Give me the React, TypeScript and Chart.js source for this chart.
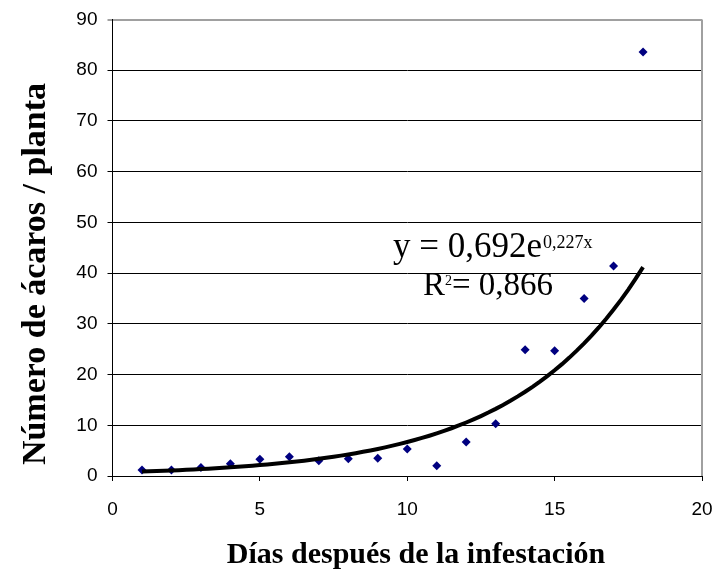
import React, { useEffect, useRef } from "react";
import { Chart, registerables } from "chart.js";

Chart.register(...registerables);

const days = [1, 2, 3, 4, 5, 6, 7, 8, 9, 10, 11, 12, 13, 14, 15, 16, 17, 18];
const mites = [1.2, 1.2, 1.7, 2.4, 3.3, 3.8, 3.0, 3.4, 3.5, 5.3, 2.0, 6.7, 10.3, 24.9, 24.7, 35.0, 41.4, 83.6];
const xTicks = [0, 5, 10, 15, 20];
const yTicks = [0, 10, 20, 30, 40, 50, 60, 70, 80, 90];
const trendA = 0.692;
const trendB = 0.227;
const eqLine1 = "y = 0,692e";
const eqExp = "0,227x";
const eqLine2a = "R";
const eqLine2sup = "2";
const eqLine2b = "= 0,866";
const xTitle = "Días después de la infestación";
const yTitle = "Número de ácaros / planta";

export default function App() {
  const ref = useRef<HTMLCanvasElement | null>(null);
  useEffect(() => {
    document.body.style.margin = "0";
    const canvas = ref.current!;
    const trendPts: { x: number; y: number }[] = [];
    for (let i = 0; i <= 68; i++) {
      const x = days[0] + (i * (days[days.length - 1] - days[0])) / 68;
      trendPts.push({ x, y: trendA * Math.exp(trendB * x) });
    }
    const textPlugin = {
      id: "texts",
      afterDraw(chart: any) {
        const ctx = chart.ctx;
        const area = chart.chartArea;
        ctx.save();
        ctx.strokeStyle = "#a0a0a0";
        ctx.lineWidth = 2;
        ctx.beginPath();
        ctx.moveTo(area.right, area.top);
        ctx.lineTo(area.right, area.bottom);
        ctx.stroke();
        ctx.fillStyle = "#000";
        ctx.save();
        ctx.translate(36, 274);
        ctx.rotate(-Math.PI / 2);
        ctx.font = "bold 34px 'Liberation Serif'";
        ctx.textAlign = "center";
        ctx.textBaseline = "middle";
        ctx.fillText(yTitle, 0, 0);
        ctx.restore();
        ctx.font = "bold 30px 'Liberation Serif'";
        ctx.textAlign = "center";
        ctx.textBaseline = "alphabetic";
        ctx.fillText(xTitle, 416, 563);
        ctx.textAlign = "left";
        ctx.font = "35px 'Liberation Serif'";
        ctx.fillText(eqLine1, 393, 257);
        const w1 = ctx.measureText(eqLine1).width;
        ctx.font = "18px 'Liberation Serif'";
        ctx.fillText(eqExp, 393 + w1 + 1, 248);
        ctx.font = "33px 'Liberation Serif'";
        ctx.fillText(eqLine2a, 423, 295);
        const wr = ctx.measureText(eqLine2a).width;
        ctx.font = "14px 'Liberation Serif'";
        ctx.fillText(eqLine2sup, 423 + wr, 285);
        const ws = ctx.measureText(eqLine2sup).width;
        ctx.font = "33px 'Liberation Serif'";
        ctx.fillText(eqLine2b, 423 + wr + ws, 295);
        ctx.restore();
      },
    };
    const chart = new Chart(canvas, {
      type: "scatter",
      data: {
        datasets: [
          {
            label: "trend",
            type: "line",
            data: trendPts,
            borderColor: "#000",
            borderWidth: 4,
            pointRadius: 0,
            fill: false,
            tension: 0,
            order: 0,
          } as any,
          {
            label: "mites",
            data: days.map((d, i) => ({ x: d, y: mites[i] })),
            pointStyle: "rectRot",
            pointRadius: 4.5,
            backgroundColor: "#000080",
            borderColor: "#000080",
            borderWidth: 0,
            order: 1,
          },
        ],
      },
      options: {
        responsive: false,
        animation: false,
        layout: { padding: { top: 19.5, right: 15, left: 0, bottom: 0 } },
        plugins: { legend: { display: false }, tooltip: { enabled: false } },
        scales: {
          x: {
            type: "linear",
            min: 0,
            max: 20,
            afterBuildTicks: (s: any) => {
              s.ticks = xTicks.map((v) => ({ value: v }));
            },
            afterFit: (s: any) => {
              s.height = 98;
              s.paddingLeft = 0;
              s.paddingRight = 0;
            },
            grid: { drawOnChartArea: false, drawTicks: true, tickLength: 5, color: "#000" },
            border: { color: "#000", width: 1 },
            ticks: { color: "#000", font: { family: "'Liberation Sans'", size: 19 }, padding: 17 },
          },
          y: {
            min: 0,
            max: 90,
            afterBuildTicks: (s: any) => {
              s.ticks = yTicks.map((v) => ({ value: v }));
            },
            afterFit: (s: any) => {
              s.width = 112.5;
              s.paddingTop = 0;
              s.paddingBottom = 0;
            },
            grid: {
              drawTicks: true,
              tickLength: 5,
              color: (c: any) => (c.tick && c.tick.value === 90 ? "#a0a0a0" : "#000"),
              lineWidth: (c: any) => (c.tick && c.tick.value === 90 ? 2 : 1),
            },
            border: { color: "#000", width: 1 },
            ticks: { color: "#000", font: { family: "'Liberation Sans'", size: 19 }, padding: 10 },
          },
        },
      },
      plugins: [textPlugin],
    });
    return () => chart.destroy();
  }, []);
  return (
    <div style={{ position: "fixed", left: 0, top: 0, width: 717, height: 574, background: "#fff" }}>
      <canvas ref={ref} width={717} height={574} />
    </div>
  );
}
